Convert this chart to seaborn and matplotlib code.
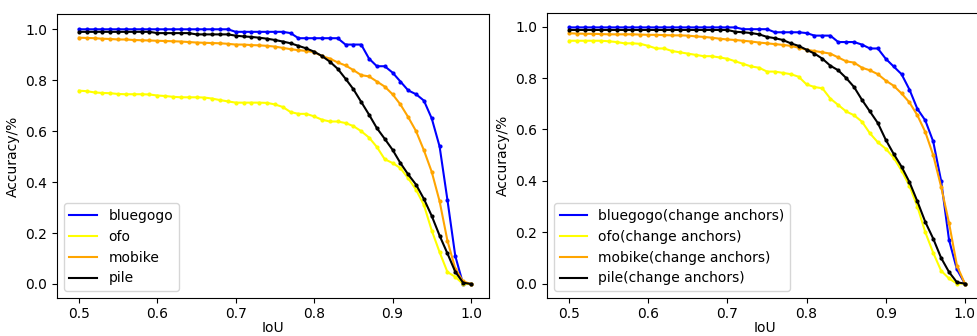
import numpy as np
import pandas as pd
import matplotlib
matplotlib.use("Agg")
import matplotlib.pyplot as plt
import seaborn as sns

iou = [round(0.50 + 0.01 * i, 2) for i in range(51)]

# ---- left panel ----
bluegogo = [1.0] * 20 + [0.99] * 7 + [0.985] + [0.965] * 6 + [0.94] * 3 + [
    0.885, 0.855, 0.855, 0.83, 0.795, 0.76, 0.745, 0.72, 0.65, 0.54, 0.33, 0.11, 0.0, 0.0]
ofo = [0.759, 0.757, 0.752, 0.75, 0.749, 0.746, 0.745, 0.745, 0.745, 0.744,
       0.74, 0.738, 0.735, 0.733, 0.733, 0.733, 0.732, 0.728, 0.722, 0.717,
       0.712, 0.712, 0.712, 0.712, 0.711, 0.705, 0.695, 0.675, 0.668, 0.668,
       0.658, 0.645, 0.638, 0.638, 0.632, 0.62, 0.60, 0.575, 0.538, 0.49,
       0.475, 0.455, 0.415, 0.37, 0.31, 0.21, 0.125, 0.047, 0.028, 0.0, 0.0]
mobike = [0.967, 0.966, 0.965, 0.963, 0.962, 0.96, 0.96, 0.958, 0.957, 0.956,
          0.955, 0.954, 0.953, 0.952, 0.95, 0.948, 0.947, 0.946, 0.945, 0.943,
          0.94, 0.94, 0.938, 0.937, 0.935, 0.932, 0.927, 0.922, 0.918, 0.915,
          0.91, 0.895, 0.885, 0.87, 0.858, 0.84, 0.82, 0.815, 0.795, 0.775,
          0.745, 0.705, 0.655, 0.60, 0.525, 0.44, 0.325, 0.17, 0.06, 0.01, 0.0]
pile = [0.99] * 10 + [0.985] * 5 + [0.98] * 5 + [
    0.975, 0.972, 0.97, 0.967, 0.963, 0.958, 0.952, 0.945, 0.935, 0.925,
    0.912, 0.895, 0.873, 0.845, 0.806, 0.765, 0.715, 0.665, 0.612, 0.57,
    0.527, 0.475, 0.43, 0.39, 0.334, 0.267, 0.19, 0.12, 0.048, 0.005, 0.0]

# ---- right panel (change anchors) ----
bluegogo_ca = [0.997] * 22 + [0.99] * 4 + [0.978] * 4 + [0.975] + [0.965] * 3 + [
    0.94, 0.94, 0.94, 0.93, 0.915, 0.915, 0.875, 0.845, 0.815, 0.755, 0.68,
    0.635, 0.553, 0.40, 0.17, 0.055, 0.0]
ofo_ca = [0.945, 0.945, 0.945, 0.945, 0.945, 0.943, 0.94, 0.935, 0.935, 0.933,
          0.925, 0.915, 0.915, 0.905, 0.90, 0.895, 0.89, 0.885, 0.885, 0.88,
          0.875, 0.865, 0.855, 0.845, 0.84, 0.825, 0.825, 0.82, 0.815, 0.805,
          0.775, 0.765, 0.76, 0.72, 0.695, 0.67, 0.655, 0.63, 0.585, 0.55,
          0.525, 0.49, 0.44, 0.38, 0.30, 0.20, 0.12, 0.05, 0.02, 0.0, 0.0]
mobike_ca = [0.974, 0.973, 0.972, 0.972, 0.971, 0.97, 0.97, 0.97, 0.97, 0.969,
             0.968, 0.968, 0.967, 0.966, 0.966, 0.965, 0.962, 0.96, 0.957, 0.953,
             0.95, 0.948, 0.945, 0.942, 0.938, 0.935, 0.932, 0.929, 0.925, 0.918,
             0.91, 0.905, 0.90, 0.895, 0.88, 0.865, 0.86, 0.84, 0.83, 0.815,
             0.79, 0.77, 0.74, 0.705, 0.655, 0.59, 0.50, 0.377, 0.236, 0.07, 0.0]
pile_ca = [0.987] * 21 + [0.98, 0.978, 0.975, 0.97, 0.96, 0.955, 0.948, 0.935, 0.925,
    0.91, 0.895, 0.875, 0.848, 0.83, 0.80, 0.765, 0.715, 0.67, 0.625,
    0.56, 0.505, 0.455, 0.395, 0.32, 0.24, 0.175, 0.10, 0.045, 0.005, 0.0]

names_left = ["bluegogo", "ofo", "mobike", "pile"]
names_right = [n + "(change anchors)" for n in names_left]
colors = ["blue", "yellow", "orange", "black"]

fig = plt.figure(figsize=(9.77, 3.36), dpi=100)
ax1 = fig.add_axes([0.0583, 0.1131, 0.4422, 0.8452])
ax2 = fig.add_axes([0.5599, 0.1131, 0.4463, 0.8482])


def draw(ax, series, names, ylim):
    for vals, name, col in zip(series, names, colors):
        df = pd.DataFrame({"IoU": iou, "Accuracy": vals})
        sns.lineplot(data=df, x="IoU", y="Accuracy", ax=ax, color=col,
                     marker=".", markersize=6, markeredgewidth=0,
                     linewidth=1.5, label=name)
    ax.set_xlim(0.472, 1.023)
    ax.set_ylim(*ylim)
    ax.set_xticks([0.5, 0.6, 0.7, 0.8, 0.9, 1.0])
    ax.set_yticks([0.0, 0.2, 0.4, 0.6, 0.8, 1.0])
    ax.tick_params(axis="x", pad=3)
    ax.set_xlabel("IoU", labelpad=0)
    ax.set_ylabel("Accuracy/%")
    leg = ax.legend(loc="lower left", fontsize=10)
    for h in leg.get_lines():
        h.set_marker("")


draw(ax1, [bluegogo, ofo, mobike, pile], names_left, (-0.055, 1.06))
draw(ax2, [bluegogo_ca, ofo_ca, mobike_ca, pile_ca], names_right, (-0.056, 1.053))

fig.savefig("out.png", dpi=100)
